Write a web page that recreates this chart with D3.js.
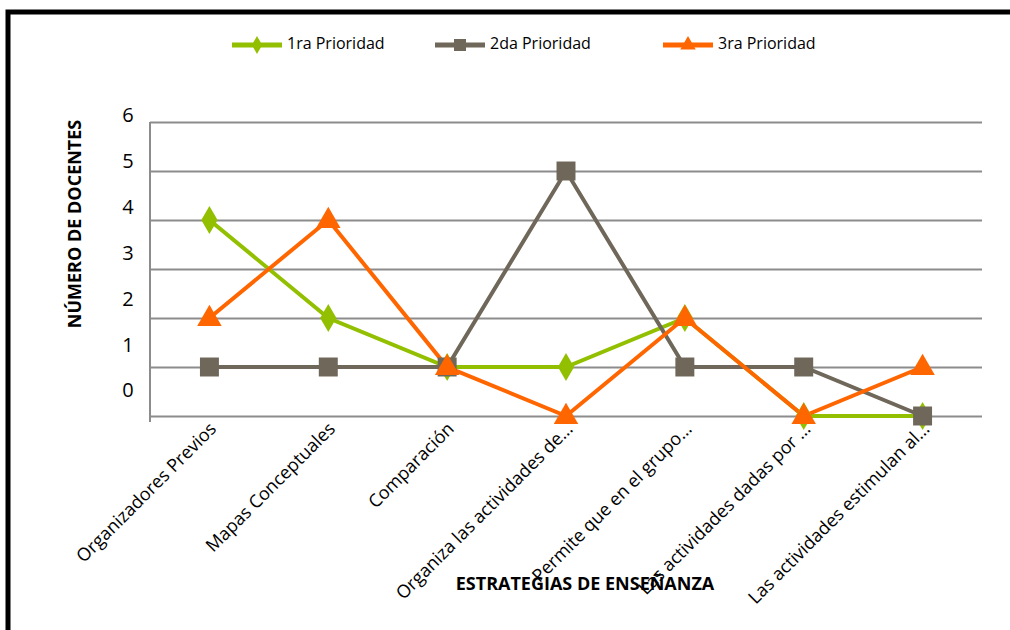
<!DOCTYPE html>
<html>
<head>
<meta charset="utf-8">
<script src="https://cdn.jsdelivr.net/npm/d3@7"></script>
<style>
  body { margin: 0; background: #fff; }
  svg { display: block; }
</style>
</head>
<body>
<div id="chart"></div>
<script>
// data
var categorias = ["Organizadores Previos", "Mapas Conceptuales", "Comparación",
  "Organiza las actividades de…", "Permite que en el grupo…",
  "Las actividades dadas por …", "Las actividades estimulan al…"];
var prioridad1 = [4, 2, 1, 1, 2, 0, 0];
var prioridad2 = [1, 1, 1, 5, 1, 1, 0];
var prioridad3 = [2, 4, 1, 0, 2, 0, 1];
var yTicks = [0, 1, 2, 3, 4, 5, 6];

var series = [
  {name: "1ra Prioridad", values: prioridad1, color: "#92c000", symbol: d3.symbolDiamond, size: 230},
  {name: "2da Prioridad", values: prioridad2, color: "#6f685a", symbol: d3.symbolSquare, size: 360},
  {name: "3ra Prioridad", values: prioridad3, color: "#ff6600", symbol: d3.symbolTriangle, size: 260}
];

var W = 1010, H = 630;
var margin = {top: 122, right: 28, bottom: 214, left: 150};
var width = W - margin.left - margin.right,
    height = H - margin.top - margin.bottom;

var svg = d3.select("#chart").append("svg")
  .attr("width", W).attr("height", H);

// frame
svg.append("path")
  .attr("d", "M8,640 L8,12 L1020,12")
  .attr("fill", "none").attr("stroke", "#000").attr("stroke-width", 5);

var g = svg.append("g")
  .attr("transform", "translate(" + margin.left + "," + margin.top + ")");

var x = d3.scaleBand().domain(categorias).range([0, width]);
var y = d3.scaleLinear().domain([0, 6]).range([height, 0]);
// the value labels sit a little off the gridlines in the original
var yLab = d3.scaleLinear().domain([0, 6]).range([270, -5]);

// gridlines
g.append("g")
  .attr("class", "grid")
  .call(d3.axisLeft(y).tickValues(yTicks).tickSize(-width).tickFormat(""))
  .call(function(a) {
    a.select(".domain").remove();
    a.selectAll("line").attr("stroke", "#8c8c8c").attr("stroke-width", 2);
  });

// left axis line
g.append("line")
  .attr("x1", 0).attr("x2", 0).attr("y1", 0).attr("y2", height + 6)
  .attr("stroke", "#8c8c8c").attr("stroke-width", 2);

// y labels
g.selectAll(".ylab").data(yTicks).enter().append("text")
  .attr("x", -22).attr("y", function(d) { return yLab(d); })
  .attr("text-anchor", "middle").attr("dominant-baseline", "middle")
  .style("font-family", "Open Sans").style("font-size", "20px").attr("fill", "#000")
  .text(function(d) { return d; });

// x labels
g.selectAll(".xlab").data(categorias).enter().append("text")
  .attr("transform", function(d) {
    return "translate(" + (x(d) + x.bandwidth() / 2 + 8) + "," + (height + 14) + ") rotate(-45)";
  })
  .attr("text-anchor", "end")
  .style("font-family", "Open Sans").style("font-size", "18px").attr("fill", "#000")
  .text(function(d) { return d; });

// lines and markers
var line = d3.line()
  .x(function(d, i) { return x(categorias[i]) + x.bandwidth() / 2; })
  .y(function(d) { return y(d); });

series.forEach(function(s) {
  g.append("path").datum(s.values)
    .attr("d", line).attr("fill", "none")
    .attr("stroke", s.color).attr("stroke-width", 4);
});
series.forEach(function(s) {
  g.selectAll(null).data(s.values).enter().append("path")
    .attr("d", d3.symbol().type(s.symbol).size(s.size))
    .attr("transform", function(d, i) {
      var dy = s.symbol === d3.symbolTriangle ? 1 : 0;
      return "translate(" + (x(categorias[i]) + x.bandwidth() / 2) + "," + (y(d) + dy) + ")";
    })
    .attr("fill", s.color);
});

// axis titles
svg.append("text")
  .attr("transform", "translate(81,224) rotate(-90)")
  .attr("text-anchor", "middle")
  .style("font-family", "Open Sans").style("font-size", "18px").style("font-weight", "bold")
  .text("NÚMERO DE DOCENTES");

svg.append("text")
  .attr("x", 585).attr("y", 590)
  .attr("text-anchor", "middle")
  .style("font-family", "Open Sans").style("font-size", "18px").style("font-weight", "bold")
  .text("ESTRATEGIAS DE ENSEÑANZA");

// legend
var legX = [232, 435, 663];
var leg = svg.selectAll(".leg").data(series).enter().append("g")
  .attr("transform", function(d, i) { return "translate(" + legX[i] + ",45)"; });
leg.append("line").attr("x1", 0).attr("x2", 50)
  .attr("stroke", function(d) { return d.color; }).attr("stroke-width", 5);
leg.append("path")
  .attr("d", function(d) { return d3.symbol().type(d.symbol).size(d.size * 0.4)(); })
  .attr("transform", "translate(25,0)")
  .attr("fill", function(d) { return d.color; });
leg.append("text").attr("x", 55).attr("y", 0).attr("dominant-baseline", "middle")
  .style("font-family", "Open Sans").style("font-size", "16px")
  .text(function(d) { return d.name; });
</script>
</body>
</html>
